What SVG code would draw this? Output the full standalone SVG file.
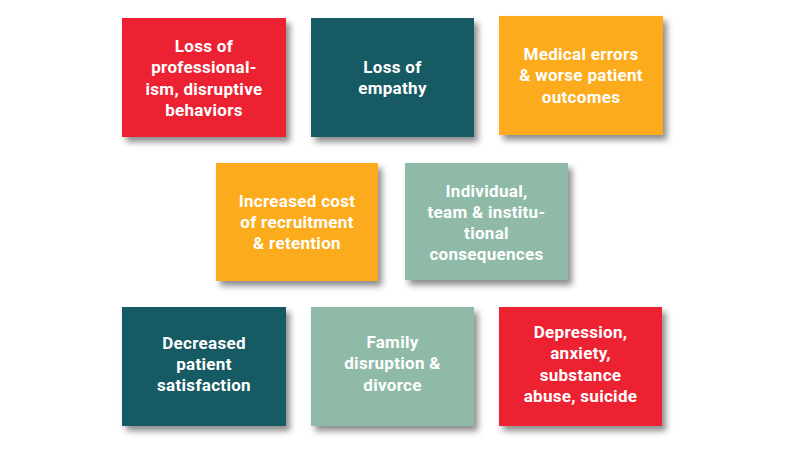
<svg xmlns="http://www.w3.org/2000/svg" width="800" height="449" viewBox="0 0 800 449">
<defs>
<filter id="sh" x="-20%" y="-20%" width="150%" height="150%">
<feDropShadow dx="4" dy="5" stdDeviation="3" flood-color="#000" flood-opacity="0.45"/>
</filter>
<style>
.box{filter:url(#sh)}
.red{fill:#EC2130}
.teal{fill:#135A63}
.orange{fill:#FBAB1D}
.sage{fill:#8EBAA7}
text{font-family:Roboto,"Liberation Sans",sans-serif;font-weight:bold;font-size:17px;letter-spacing:0.3px;fill:#fff;text-anchor:middle}
</style>
</defs>
<rect width="800" height="449" fill="#fff"/>
<g id="n1"><rect class="box red" x="122" y="18" width="164" height="119"/>
<text x="204"><tspan x="204" y="52">Loss of</tspan><tspan x="204" y="73.3">professional-</tspan><tspan x="204" y="94.6">ism, disruptive</tspan><tspan x="204" y="115.9">behaviors</tspan></text></g>
<g id="n2"><rect class="box teal" x="311" y="18" width="163" height="119"/>
<text><tspan x="392.5" y="72.5">Loss of</tspan><tspan x="392.5" y="93.8">empathy</tspan></text></g>
<g id="n3"><rect class="box orange" x="499" y="16" width="164" height="119"/>
<text><tspan x="581" y="60">Medical errors</tspan><tspan x="581" y="81.3">&amp; worse patient</tspan><tspan x="581" y="102.6">outcomes</tspan></text></g>
<g id="n4"><rect class="box orange" x="216" y="163" width="162" height="118"/>
<text><tspan x="297" y="206.5">Increased cost</tspan><tspan x="297" y="227.8">of recruitment</tspan><tspan x="297" y="249.1">&amp; retention</tspan></text></g>
<g id="n5"><rect class="box sage" x="405" y="163" width="163" height="117"/>
<text><tspan x="486.5" y="196.5">Individual,</tspan><tspan x="486.5" y="217.8">team &amp; institu-</tspan><tspan x="486.5" y="239.1">tional</tspan><tspan x="486.5" y="260.4">consequences</tspan></text></g>
<g id="n6"><rect class="box teal" x="122" y="307" width="164" height="119"/>
<text><tspan x="204" y="348.5">Decreased</tspan><tspan x="204" y="369.8">patient</tspan><tspan x="204" y="391.1">satisfaction</tspan></text></g>
<g id="n7"><rect class="box sage" x="311" y="307" width="163" height="119"/>
<text><tspan x="392.5" y="348">Family</tspan><tspan x="392.5" y="369.3">disruption &amp;</tspan><tspan x="392.5" y="390.6">divorce</tspan></text></g>
<g id="n8"><rect class="box red" x="499" y="307" width="163" height="119"/>
<text><tspan x="580.5" y="338">Depression,</tspan><tspan x="580.5" y="359.3">anxiety,</tspan><tspan x="580.5" y="380.6">substance</tspan><tspan x="580.5" y="401.9">abuse, suicide</tspan></text></g>
<g id="connectors"/>
</svg>
